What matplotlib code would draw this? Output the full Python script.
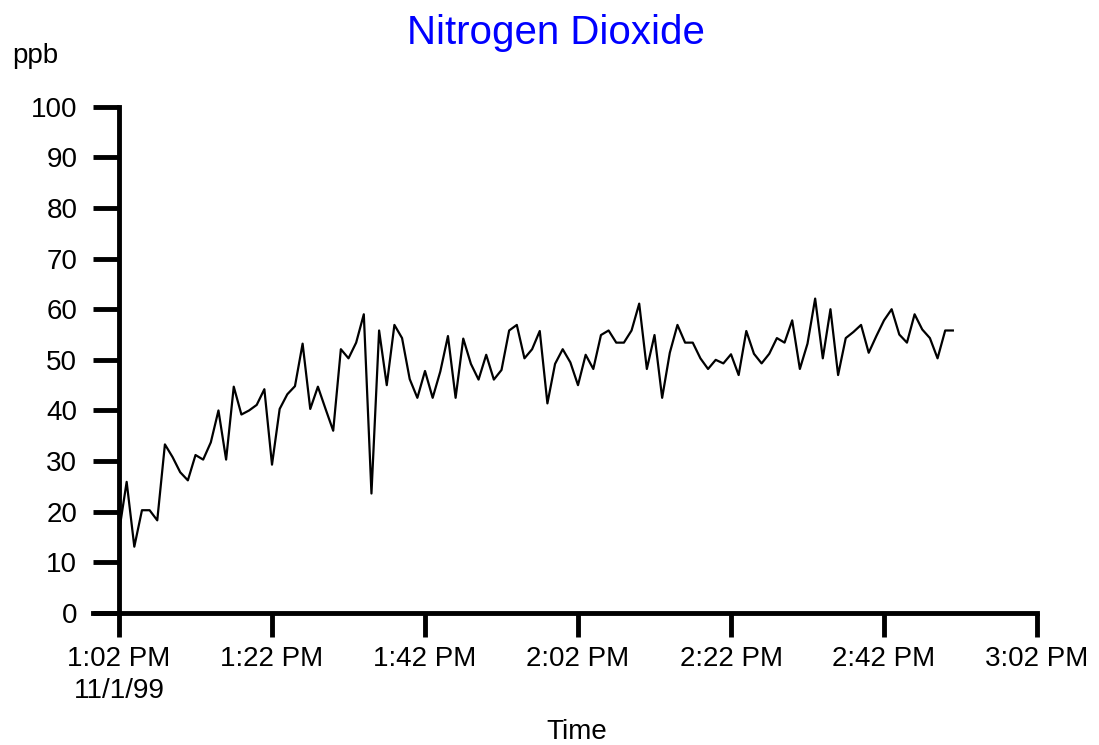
import numpy as np
import matplotlib
matplotlib.use("Agg")
import matplotlib.pyplot as plt

# NO2 readings (ppb), one per minute starting 1:02 PM 11/1/99
no2 = [
    16.0, 25.9, 13.1, 20.3, 20.3, 18.3, 33.3, 30.8, 27.8, 26.2,
    31.2, 30.3, 33.7, 40.0, 30.3, 44.7, 39.2, 40.0, 41.1, 44.2,
    29.3, 40.3, 43.2, 44.8, 53.2, 40.3, 44.7, 40.3, 36.0, 52.1,
    50.3, 53.4, 59.0, 23.6, 55.8, 45.0, 56.9, 54.3, 46.2, 42.5,
    47.8, 42.5, 47.7, 54.7, 42.5, 54.2, 49.2, 46.1, 51.0, 46.1,
    48.0, 55.8, 56.9, 50.3, 52.1, 55.7, 41.4, 49.2, 52.1, 49.5,
    45.0, 51.0, 48.2, 54.9, 55.8, 53.4, 53.4, 55.8, 61.1, 48.2,
    54.9, 42.5, 51.4, 56.9, 53.4, 53.4, 50.3, 48.2, 50.0, 49.3,
    51.1, 47.0, 55.7, 51.2, 49.3, 51.2, 54.3, 53.4, 57.8, 48.2,
    53.2, 62.1, 50.3, 60.0, 47.0, 54.3, 55.5, 56.9, 51.4, 54.7,
    57.8, 60.0, 55.0, 53.4, 59.0, 56.0, 54.3, 50.3, 55.8, 55.8,
]
minutes = np.arange(len(no2))  # minutes after 1:02 PM

tick_minutes = [0, 20, 40, 60, 80, 100, 120]
tick_labels = ["1:02 PM\n11/1/99", "1:22 PM", "1:42 PM", "2:02 PM",
               "2:22 PM", "2:42 PM", "3:02 PM"]
y_ticks = [0, 10, 20, 30, 40, 50, 60, 70, 80, 90, 100]


def main():
    plt.rcParams["font.family"] = ["Liberation Sans", "DejaVu Sans"]
    fig = plt.figure(figsize=(10.99, 7.45), dpi=100)
    ax = fig.add_axes([93 / 1099, 132 / 745, 944 / 1099, 506.3 / 745])

    ax.plot(minutes, no2, color="black", linewidth=1.6)

    ax.set_xlim(-3.4, 120)
    ax.set_ylim(0, 100)

    for side in ["top", "right"]:
        ax.spines[side].set_visible(False)
    ax.spines["left"].set_position(("data", 0))
    ax.spines["left"].set_bounds(0, 100)
    ax.spines["left"].set_linewidth(3.5)
    ax.spines["bottom"].set_linewidth(3.5)

    ax.set_xticks(tick_minutes)
    ax.set_xticklabels(tick_labels, fontsize=20, linespacing=1.3)
    ax.set_yticks(y_ticks)
    ax.set_yticklabels([str(v) for v in y_ticks], fontsize=20)
    ax.tick_params(axis="x", length=17, width=3.5, pad=7, direction="out")
    ax.tick_params(axis="y", length=19, width=3.5, pad=11, direction="out")

    fig.text(556 / 1099, (745 - 44.3) / 745, "Nitrogen Dioxide",
             color="#0000ff", fontsize=29, ha="center", va="baseline")
    fig.text(12 / 1099, (745 - 63.3) / 745, "ppb", fontsize=20,
             ha="left", va="baseline")
    fig.text(577 / 1099, 6 / 745, "Time", fontsize=20,
             ha="center", va="baseline")

    fig.savefig("out.png", dpi=100)


if __name__ == "__main__":
    main()
